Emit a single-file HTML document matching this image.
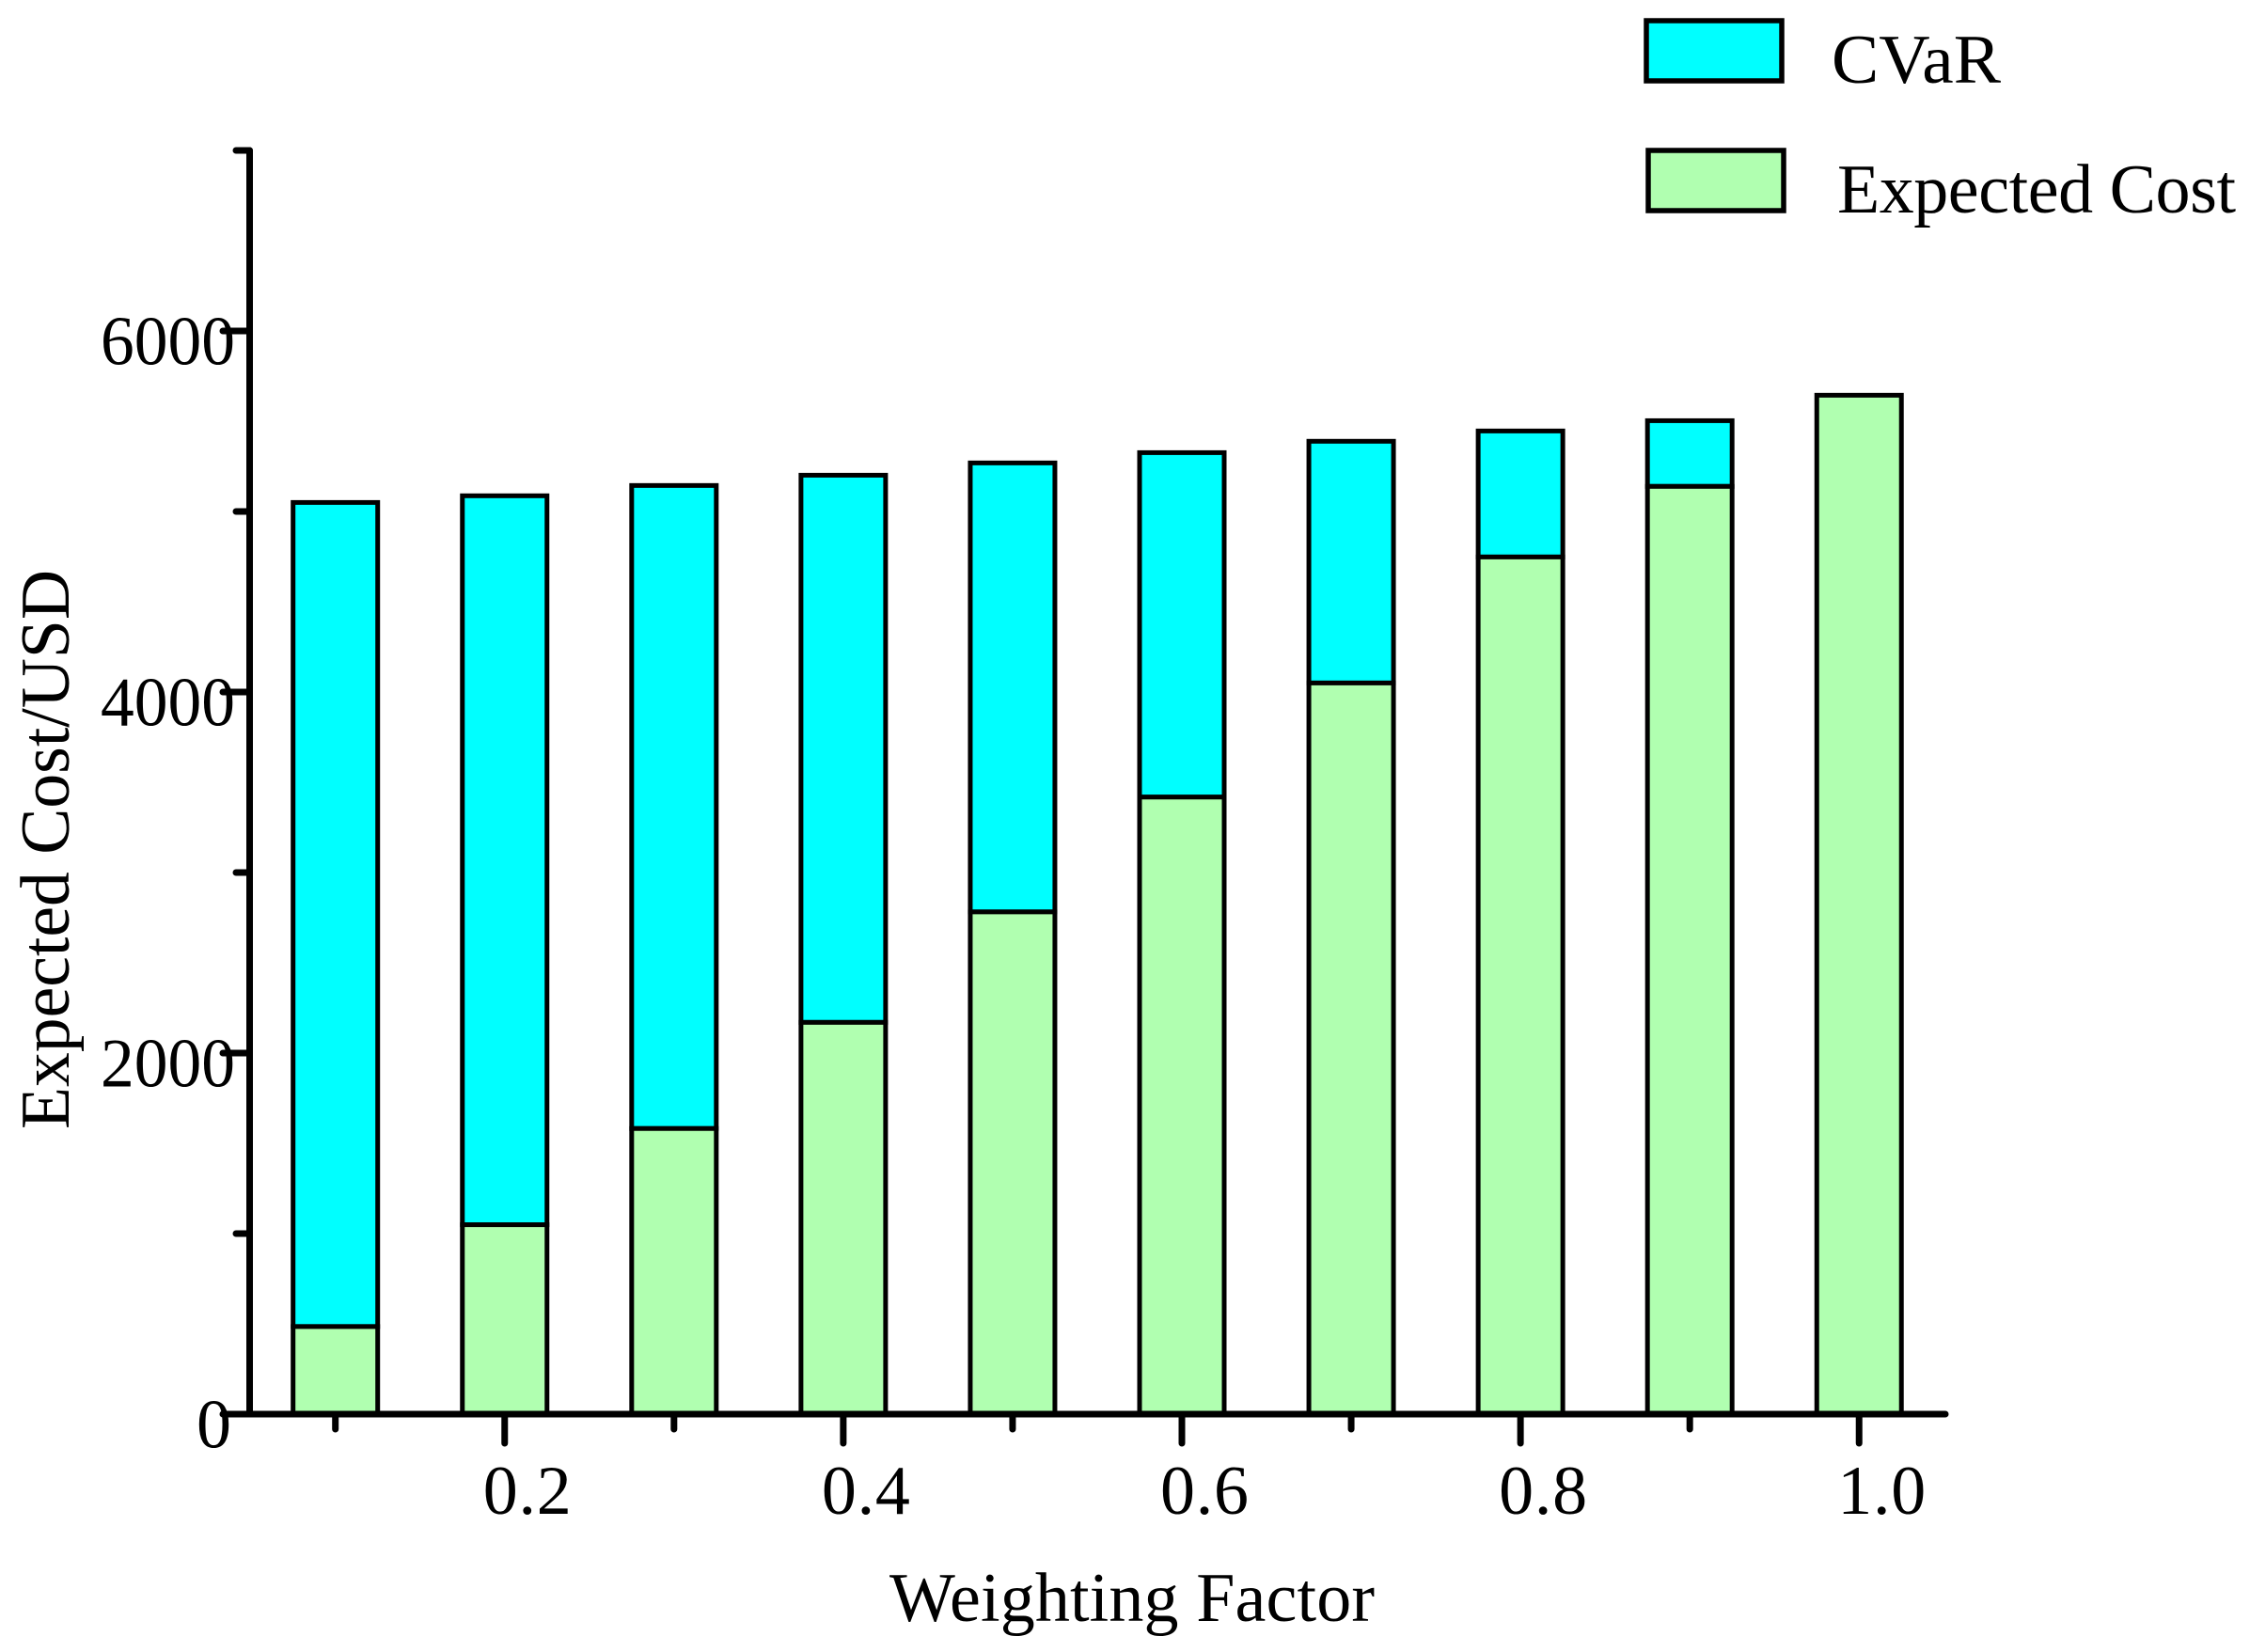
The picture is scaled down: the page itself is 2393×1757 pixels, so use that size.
<!DOCTYPE html>
<html lang="en">
<head>
<meta charset="utf-8">
<title>Expected Cost and CVaR by Weighting Factor</title>
<style>
html,body{margin:0;padding:0;background:#fff;}
svg{display:block;}
text{font-family:"Liberation Serif",serif;font-size:74px;fill:#000;}
</style>
</head>
<body>
<svg id="chart" xmlns="http://www.w3.org/2000/svg" width="2393" height="1757" viewBox="0 0 2393 1757">
  <rect x="0" y="0" width="2393" height="1757" fill="#ffffff"/>
  <g id="bars"></g>
  <g id="axes"></g>
  <text x="946" y="1724" textLength="516">Weighting Factor</text>
  <text transform="translate(73,1201) rotate(-90)" x="0" y="0" textLength="595" lengthAdjust="spacingAndGlyphs">Expected Cost/USD</text>
  <g>
    <rect x="1751" y="22" width="144" height="64" fill="#00ffff" stroke="#000" stroke-width="5.5"/>
    <text x="1948" y="88" textLength="180" lengthAdjust="spacingAndGlyphs">CVaR</text>
    <rect x="1753" y="160" width="144" height="64" fill="#b0ffb0" stroke="#000" stroke-width="5.5"/>
    <text x="1954" y="226" textLength="424">Expected Cost</text>
  </g>
</svg>
<script>
const categories = [0.1, 0.2, 0.3, 0.4, 0.5, 0.6, 0.7, 0.8, 0.9, 1.0];
const expectedCost = [485, 1049, 1582, 2170, 2782, 3418, 4050, 4748, 5139, 5644];
const cvar = [4565, 4038, 3562, 3031, 2487, 1908, 1339, 698, 364, 0];
const xMajorTicks = [0.2, 0.4, 0.6, 0.8, 1.0];
const xMinorTicks = [0.1, 0.3, 0.5, 0.7, 0.9];
const yMajorTicks = [0, 2000, 4000, 6000];
const yMinorTicks = [1000, 3000, 5000, 7000];

const NS = 'http://www.w3.org/2000/svg';
const barWidth = 90;
function xScale(v) { return 356.7 + (v - 0.1) * 1800.6; }
function yScale(v) { return 1504 - v * 0.192; }

function make(tag, attrs, parent) {
  const el = document.createElementNS(NS, tag);
  for (const k in attrs) el.setAttribute(k, attrs[k]);
  parent.appendChild(el);
  return el;
}

const barsGroup = document.getElementById('bars');
const axesGroup = document.getElementById('axes');
const lineStyle = { stroke: '#000', 'stroke-width': 7, 'stroke-linecap': 'round' };

categories.forEach(function (c, i) {
  const left = xScale(c) - barWidth / 2;
  const base = yScale(0);
  const mid = yScale(expectedCost[i]);
  const top = yScale(expectedCost[i] + cvar[i]);
  const upper = make('rect', { x: left, y: top, width: barWidth, height: mid - top, fill: '#00ffff', stroke: '#000', 'stroke-width': 5 }, barsGroup);
  
  
  const lower = make('rect', { x: left, y: mid, width: barWidth, height: base - mid, fill: '#b0ffb0', stroke: '#000', 'stroke-width': 5 }, barsGroup);
  
  
});

yMajorTicks.forEach(function (v) {
  const attrs = { x: v === 0 ? 246 : 250, y: yScale(v) + 35.5, 'text-anchor': 'end' };
  if (v !== 0) {
    attrs.textLength = 143;
    attrs.lengthAdjust = 'spacingAndGlyphs';
  }
  const label = make('text', attrs, axesGroup);
  label.textContent = String(v);
  
  
  const tick = make('line', Object.assign({ x1: 237, x2: 265.5, y1: yScale(v), y2: yScale(v) }, lineStyle), axesGroup);
  
  
});

yMinorTicks.forEach(function (v) {
  const tick = make('line', Object.assign({ x1: 251, x2: 265.5, y1: yScale(v), y2: yScale(v) }, lineStyle), axesGroup);
  
  
});

xMajorTicks.forEach(function (v) {
  const tick = make('line', Object.assign({ x1: xScale(v), x2: xScale(v), y1: yScale(0), y2: yScale(0) + 31 }, lineStyle), axesGroup);
  
  
  const label = make('text', { x: xScale(v) - 23, y: 1610, textLength: 94 }, axesGroup);
  label.textContent = v.toFixed(1);
  
  
});

xMinorTicks.forEach(function (v) {
  const tick = make('line', Object.assign({ x1: xScale(v), x2: xScale(v), y1: yScale(0), y2: yScale(0) + 16 }, lineStyle), axesGroup);
  
  
});

const yAxis = make('line', Object.assign({ x1: 265.5, x2: 265.5, y1: yScale(7000), y2: yScale(0) }, lineStyle), axesGroup);



const xAxis = make('line', Object.assign({ x1: 240, x2: 2069, y1: yScale(0), y2: yScale(0) }, lineStyle), axesGroup);


</script>
</body>
</html>
